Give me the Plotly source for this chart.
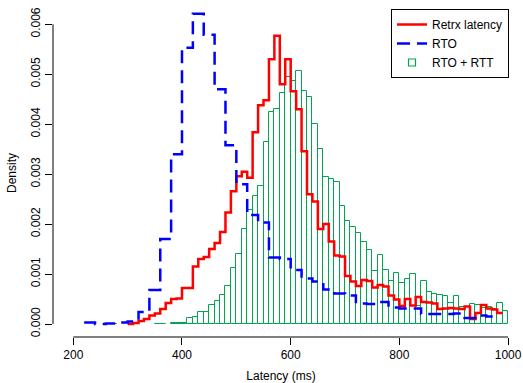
import plotly.graph_objects as go

# ---------------- data ----------------
# RTO + RTT histogram (10 ms bins, left edges)
rtt_bin_start = list(range(270, 1000, 10))
rtt_density = [
    0.00001, None, None, None, None, None, None, None, 0.00001, 0.00001,
    None, 0.00003, 0.00003, 0.00003, 0.000114, 0.000133, 0.000247, 0.000247, 0.00038, 0.000467,
    0.00058, 0.00077, 0.00113, 0.0014, 0.0019, 0.00228, 0.00257, 0.00276, 0.00364, 0.00424,
    0.0043, 0.00463, 0.00494, 0.00486, 0.00507, 0.00466, 0.00455, 0.00401, 0.0035, 0.00295,
    0.00291, 0.00284, 0.00237, 0.00207, 0.00195, 0.00183, 0.00165, 0.00149, 0.00106, 0.00138,
    0.00109, 0.00087, 0.00103, 0.00083, 0.0009, 0.00101, 0.00036, 0.00087, 0.00064, 0.0006,
    0.00058, 0.00057, 0.00042, 0.00057, 0.00034, 0.00035, 0.0004, 0.00038, 0.00032, 0.00034,
    0.00031, 0.00043, 0.00026,
]
rtt_bin_width = 10

# Retransmission latency (10 ms bins, left edges)
retrx_bin_start = list(range(300, 990, 10))
retrx_density = [
    0.0, 0.00002, 0.00006, 0.0001, 0.00017, 0.00021, 0.0003, 0.00042, 0.0005, 0.00051,
    0.00072, 0.00072, 0.00115, 0.0013, 0.00134, 0.0015, 0.00162, 0.00184, 0.00223, 0.00266,
    0.00296, 0.00305, 0.00293, 0.00384, 0.00438, 0.00448, 0.0053, 0.00577, 0.0048, 0.0053,
    0.00466, 0.0043, 0.00346, 0.0026, 0.00245, 0.0019, 0.002, 0.00165, 0.00137, 0.00135,
    0.00096, 0.00085, 0.00076, 0.00088, 0.00086, 0.00073, 0.00078, 0.00075, 0.00057, 0.00049,
    0.00036, 0.0005, 0.00037, 0.00054, 0.00044, 0.00043, 0.00041, 0.0003, 0.00031, 0.00032,
    0.00031, 0.0003, 0.00035, 0.0001, 0.00022, 0.00038, 0.00031, 0.00029, 0.00022,
]
retrx_bin_width = 10

# RTO (20 ms bins, left edges)
rto_bin_start = list(range(220, 980, 20))
rto_density = [
    0.00003, 0.0, 0.00001, 0.00003, 0.00005, 0.00024, 0.00068, 0.0017, 0.0034, 0.00553,
    0.00621, 0.00579, 0.0047, 0.00358, 0.0028, 0.00218, 0.00203, 0.00133, 0.0013, 0.00108,
    0.00091, 0.00085, 0.00069, 0.00061, 0.00057, 0.00041, 0.0004, 0.00044, 0.00033, 0.00031,
    0.00031, 0.0002, 0.0002, 0.0002, 0.00021, 0.00012, 0.00017, 0.00015,
]
rto_bin_width = 20

x_ticks = [200, 400, 600, 800, 1000]
y_ticks = [0.0, 0.001, 0.002, 0.003, 0.004, 0.005, 0.006]

# ---------------- styles ----------------
GREEN = "rgb(0,165,80)"
FONT = "Liberation Sans, Arial, Helvetica, sans-serif"


def steps(starts, vals, width):
    xs = list(starts) + [starts[-1] + width]
    ys = list(vals) + [vals[-1]]
    return xs, ys


fig = go.Figure()

fig.add_trace(go.Bar(
    x=[s + rtt_bin_width / 2 for s in rtt_bin_start],
    y=rtt_density,
    width=rtt_bin_width,
    marker=dict(color="rgba(255,255,255,0)", line=dict(color=GREEN, width=1)),
    showlegend=False,
    name="RTO + RTT",
))

rx, ry = steps(retrx_bin_start, retrx_density, retrx_bin_width)
fig.add_trace(go.Scatter(
    x=rx, y=ry, mode="lines", line_shape="hv",
    line=dict(color="#FF0000", width=2.5),
    name="Retrx latency",
))

bx, by = steps(rto_bin_start, rto_density, rto_bin_width)
fig.add_trace(go.Scatter(
    x=bx, y=by, mode="lines", line_shape="hv",
    line=dict(color="#0000FF", width=2.5, dash="13px,7px"),
    name="RTO",
))

fig.add_trace(go.Scatter(
    x=[None], y=[None], mode="markers",
    marker=dict(symbol="square-open", size=7, color=GREEN, line=dict(width=1.2, color=GREEN)),
    name="RTO + RTT",
))

axis_common = dict(
    showgrid=False, zeroline=False, showline=False, automargin=False,
    ticks="outside", ticklen=7, tickwidth=1, tickcolor="#000",
    tickfont=dict(family=FONT, size=12, color="#000"),
)

fig.update_layout(
    width=523, height=383,
    margin=dict(l=53, r=14, t=9, b=46),
    paper_bgcolor="white", plot_bgcolor="white",
    font=dict(family=FONT, size=12, color="#000"),
    barmode="overlay", bargap=0,
    xaxis=dict(
        range=[162.65, 1001.7], tickvals=x_ticks,
        title=dict(text="Latency (ms)", font=dict(family=FONT, size=12), standoff=13),
        **axis_common,
    ),
    yaxis=dict(
        range=[-0.00026, 0.006306], tickvals=y_ticks,
        ticktext=[f"{v:.3f}" for v in y_ticks], tickangle=-90,
        title=dict(text="Density", font=dict(family=FONT, size=12), standoff=10),
        **axis_common,
    ),
    legend=dict(
        x=1, y=1, xanchor="right", yanchor="top",
        bordercolor="#000", borderwidth=1, bgcolor="white",
        font=dict(family=FONT, size=12, color="#000"),
        tracegroupgap=0, itemwidth=30,
    ),
    shapes=[
        dict(type="line", xref="x", yref="paper", x0=x_ticks[0], x1=x_ticks[-1], y0=0, y1=0,
             line=dict(color="#000", width=1)),
        dict(type="line", xref="paper", yref="y", x0=0, x1=0, y0=y_ticks[0], y1=y_ticks[-1],
             line=dict(color="#000", width=1)),
    ],
)

fig.write_html(
    "out.html",
    config={"displayModeBar": False},
    post_script="document.body.style.margin='0px';document.body.style.overflow='hidden';",
)
